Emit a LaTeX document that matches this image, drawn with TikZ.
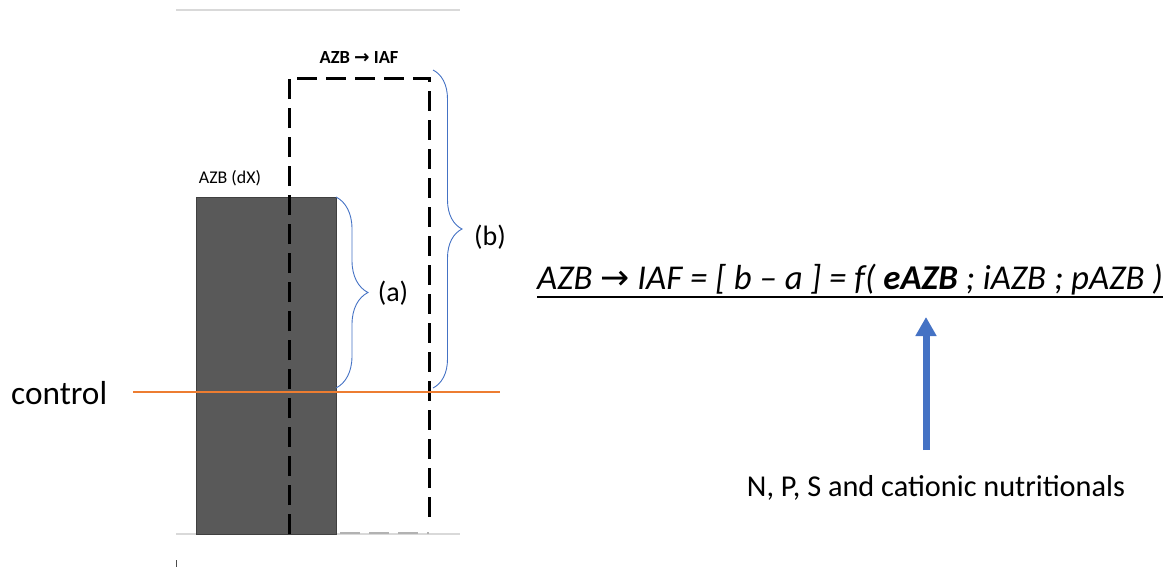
\documentclass[tikz,border=0pt]{standalone}
\usepackage{fontspec}
\setmainfont{Carlito}
\newfontfamily\arrowfont{DejaVu Sans}
\newcommand{\rarr}{{\arrowfont\upshape\mdseries →}}
\newcommand{\rarrb}{{\arrowfont\upshape\bfseries →}}
\usetikzlibrary{decorations.pathreplacing,arrows.meta}
\definecolor{frame}{HTML}{D9D9D9}
\definecolor{soil}{HTML}{595959}
\definecolor{bracec}{HTML}{4472C4}
\definecolor{ctrl}{HTML}{ED7D31}
\tikzset{
  guide/.style={draw=frame,line width=2pt},
  profile/.style={line width=3pt,dash pattern=on 20pt off 9pt},
  bracket/.style={draw=bracec,line width=0.9pt,decorate,decoration={brace,amplitude=#1}},
  lbl/.style={inner sep=0pt,font=\fontsize{28}{32}\selectfont},
}
\begin{document}
\begin{tikzpicture}[x=1pt,y=-1pt]
\useasboundingbox (0,0) rectangle (1176,570);
% frame lines
\coordinate (tl) at (176,10); \coordinate (tr) at (460,10);
\coordinate (bl) at (176,534); \coordinate (br) at (460,534);
\draw[guide] (tl) -- (tr);
\draw[guide] (bl) -- (br);
\coordinate (tk1) at (176,560); \coordinate (tk2) at (176,567);
\draw[line width=0.8pt,black!70] (tk1) -- (tk2);
% dark column
\node[draw=black!75,fill=soil,line width=0.8pt,minimum width=140pt,minimum height=337pt,inner sep=0pt,anchor=north west] (col) at (196,197) {};
% dashed profile
\coordinate (d1) at (289,534); \coordinate (d2) at (289,78);
\coordinate (d3) at (429,78); \coordinate (d4) at (429,526);
\draw[profile] (d1) -- (d2) -- (d3) -- (d4);
\coordinate (g1) at (340,533); \coordinate (g2) at (429,533);
\draw[draw=black!30,line width=1.5pt,dash pattern=on 20pt off 9pt] (g1) -- (g2);
% control line
\coordinate (c1) at (133,392); \coordinate (c2) at (500,392);
\draw[ctrl,line width=2.2pt] (c1) -- (c2);
\node[inner sep=0pt,anchor=west,font=\fontsize{33.3}{36}\selectfont] (control) at (11,393) {control};
% labels
\node[inner sep=0pt,font=\fontsize{17.9}{20}\selectfont] (dx) at (230,178) {AZB (dX)};
\node[inner sep=0pt,font=\bfseries\fontsize{18.5}{22}\selectfont] (ttl) at (359,58) {AZB \rarrb{} IAF};
% braces
\coordinate (a1) at (336,197); \coordinate (a2) at (336,388);
\draw[bracket=32pt] (a1) -- (a2);
\node[lbl] (la) at (393,293) {(a)};
\coordinate (b1) at (433,70); \coordinate (b2) at (433,388);
\draw[bracket=29pt] (b1) -- (b2);
\node[lbl] (lb) at (490,237) {(b)};
% relation
\node[inner sep=0pt,anchor=base west,font=\itshape\fontsize{34.8}{38}\selectfont] (eq) at (537,289)
  {AZB \rarr{} IAF = [ b -- a ] = f( \textbf{eAZB} ; iAZB ; pAZB )};
\draw[line width=2pt] ([yshift=-8pt]eq.base west) -- ([yshift=-8pt]eq.base east);
% nutrient arrow
\node[inner sep=0pt,font=\fontsize{30.3}{34}\selectfont] (np) at (936,488) {N, P, S and cationic nutritionals};
\coordinate (ar1) at (926,450); \coordinate (ar2) at (926,317);
\draw[bracec,line width=7pt,-{Triangle[length=19pt,width=20pt]}] (ar1) -- (ar2);
\end{tikzpicture}
\end{document}
